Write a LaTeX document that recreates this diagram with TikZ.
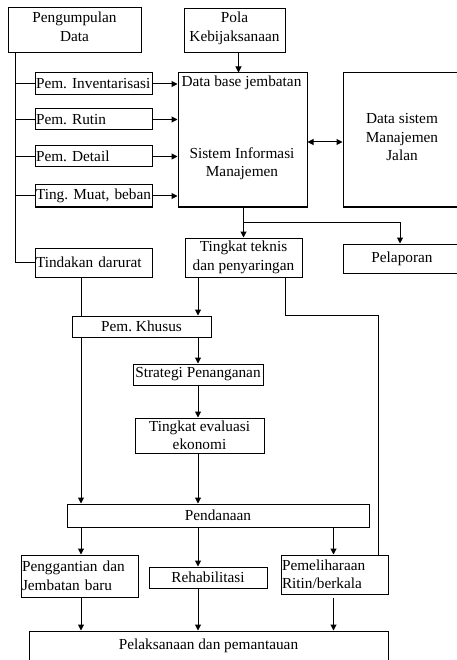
\documentclass[tikz,border=0pt]{standalone}
\usepackage{fontspec}
\setmainfont{Liberation Serif}
\usetikzlibrary{arrows.meta}
\begin{document}
\frenchspacing
\begin{tikzpicture}[x=1pt,y=-1pt,
  every node/.style={font=\fontsize{15.3}{18.5}\selectfont},
  box/.style={draw, line width=1pt, inner sep=0pt, align=center},
  lbox/.style={draw, line width=1pt, inner xsep=1pt, inner ysep=0pt, align=left},
  txt/.style={inner sep=0pt, align=center},
  ln/.style={line width=1pt},
  arr/.style={line width=1pt, -{Triangle[length=6pt,width=6pt]}},
  arrb/.style={line width=1pt, {Triangle[length=6pt,width=6pt]}-{Triangle[length=6pt,width=6pt]}}]
\useasboundingbox (0,0) rectangle (456,660);
% columns
\coordinate (c1) at (81,0);
\coordinate (c2) at (198,0);
\coordinate (c3) at (333.5,0);
\coordinate (c4) at (285,0);
\coordinate (c5) at (378,0);
\coordinate (c0) at (15,0);
% nodes
\node[box, minimum width=133pt, minimum height=45pt] (peng) at (74.5,30.5) {};
\node[txt] (pengt) at (74.5,27) {Pengumpulan\\Data};
\node[box, minimum width=101pt, minimum height=44pt] (pola) at (234.5,31) {};
\node[txt] (polat) at (234.5,28.5) {Pola\\Kebijaksanaan};
\node[lbox, text width=115pt, minimum height=22pt] (inv) at (93.5,84) {\mbox{Pem. Inventarisasi}};
\node[lbox, text width=115pt, minimum height=21pt] (rut) at (93.5,119.5) {\mbox{Pem. Rutin}};
\node[lbox, text width=115pt, minimum height=21pt] (det) at (93.5,156.5) {\mbox{Pem. Detail}};
\node[lbox, text width=115pt, minimum height=22pt] (tmb) at (93.5,196) {\mbox{Ting. Muat, beban}};
\node[box, minimum width=129pt, minimum height=134pt] (sim) at (242.5,140) {};
\node[txt] (simt1) at (241.5,83) {Data base jembatan};
\node[txt] (simt2) at (242,163.5) {Sistem Informasi\\Manajemen};
\node[box, minimum width=118pt, minimum height=134pt] (dsmj) at (402,140) {};
\node[txt] (dsmjt) at (402,137.5) {Data sistem\\Manajemen\\Jalan};
\node[box, minimum width=117pt, minimum height=39pt] (tek) at (243.5,257.5) {Tingkat teknis\\dan penyaringan};
\node[box, minimum width=118pt, minimum height=29pt] (pel) at (402,258.5) {Pelaporan};
\node[lbox, text width=115pt, minimum height=29pt] (tin) at (93.5,262.5) {\mbox{Tindakan darurat}};
\node[box, minimum width=139pt, minimum height=21pt] (khu) at (141.5,326.5) {Pem. Khusus};
\node[box, minimum width=130pt, minimum height=21pt] (str) at (198,374.5) {Strategi Penanganan};
\node[box, minimum width=129pt, minimum height=35pt] (eva) at (199.5,435.5) {Tingkat evaluasi\\ekonomi};
\node[box, minimum width=302pt, minimum height=23pt] (pen) at (218,515.5) {Pendanaan};
\node[lbox, text width=115pt, minimum height=42pt] (pgg) at (79.5,576) {\mbox{Penggantian dan}\\\mbox{Jembatan baru}};
\node[box, minimum width=118pt, minimum height=21pt] (reh) at (208,577.5) {Rehabilitasi};
\node[lbox, text width=105pt, minimum height=39pt] (pml) at (334.5,574.5) {\mbox{Pemeliharaan}\\\mbox{Ritin/berkala}};
\node[box, minimum width=359pt, minimum height=49pt] (pls) at (208.5,655.5) {};
\node[txt] (plst) at (208.5,646) {Pelaksanaan dan pemantauan};
% left spine
\draw[ln] (peng.south -| c0) |- (tin.west);
\draw[ln] (inv.west -| c0) -- (inv.west);
\draw[ln] (rut.west -| c0) -- (rut.west);
\draw[ln] (det.west -| c0) -- (det.west);
\draw[ln] (tmb.west -| c0) -- (tmb.west);
% into SIM
\draw[arr] (inv.east) -- (inv.east -| sim.west);
\draw[arr] (rut.east) -- (rut.east -| sim.west);
\draw[arr] (det.east) -- (det.east -| sim.west);
\draw[arr] (tmb.east) -- (tmb.east -| sim.west);
\draw[arr] ([xshift=4pt]pola.south) -- ([xshift=4pt]pola.south |- sim.north);
\draw[arrb] ([yshift=-2pt]sim.east) -- ([yshift=-2pt]sim.east -| dsmj.west);
% from SIM
\coordinate (br) at ([yshift=-15pt,xshift=1pt]sim.south);
\draw[ln] ([xshift=1pt]sim.south) -- (br);
\draw[arr] (br) -- (br |- tek.north);
\draw[arr] (br) -| ([xshift=-2pt]pel.north);
% middle
\draw[ln] (tin.south -| c1) -- (khu.north -| c1);
\draw[arr] (tek.south -| c2) -- (khu.north -| c2);
\draw[ln] (tek.south -| c4) |- (khu.north -| c5) -- (pml.north -| c5);
\draw[arr] (khu.south -| c1) -- (pen.north -| c1);
\draw[arr] (khu.south -| c2) -- (str.north -| c2);
\draw[arr] (str.south -| c2) -- (eva.north -| c2);
\draw[arr] (eva.south -| c2) -- (pen.north -| c2);
% bottom
\draw[arr] (pen.south -| c1) -- (pgg.north -| c1);
\draw[arr] (pen.south -| c2) -- (reh.north -| c2);
\draw[arr] (pen.south -| c3) -- (pml.north -| c3);
\draw[arr] (pgg.south -| c1) -- (pls.north -| c1);
\draw[arr] (reh.south -| c2) -- (pls.north -| c2);
\draw[arr] ([yshift=-3pt]pml.south -| c3) -- (pls.north -| c3);
\end{tikzpicture}
\end{document}
